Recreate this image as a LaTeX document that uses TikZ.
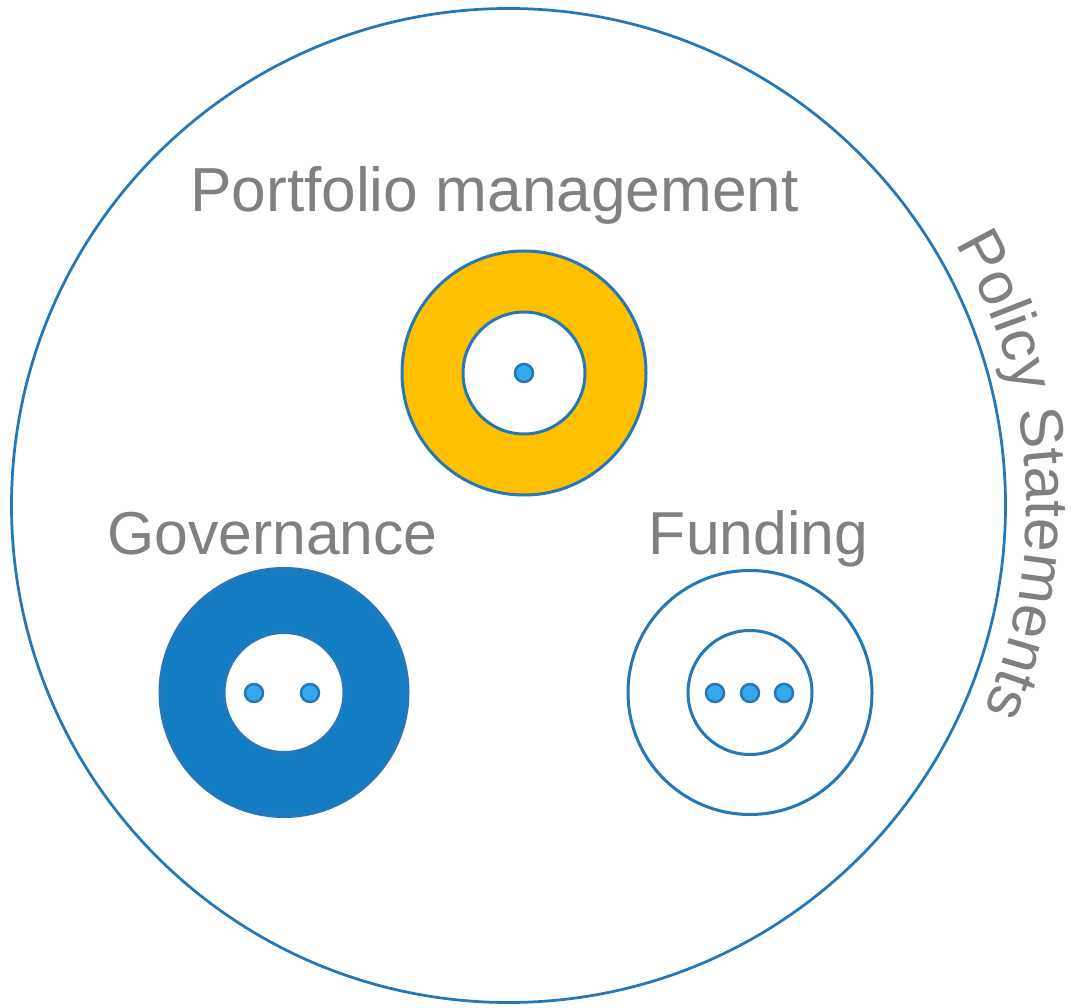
\documentclass[tikz,border=0pt]{standalone}
\usepackage{fontspec}
\setmainfont{Liberation Sans}
\usetikzlibrary{shapes.geometric, decorations.text}
\definecolor{edgeblue}{HTML}{2677B5}
\definecolor{fillblue}{HTML}{127DC2}
\definecolor{dotblue}{HTML}{35A8F0}
\definecolor{gold}{HTML}{FFC000}
\definecolor{labelgray}{HTML}{808080}
\newcommand{\labelfont}{\fontsize{34.5}{40}\selectfont}
\tikzstyle{outer} = [circle, draw=edgeblue, line width=0.055cm, fill=white, inner sep=0pt]
\tikzstyle{ring} = [circle, draw=edgeblue, line width=0.06cm, minimum size=4.88cm, inner sep=0pt]
\tikzstyle{hole} = [circle, draw=edgeblue, line width=0.06cm, fill=white, minimum size=2.44cm, inner sep=0pt]
\tikzstyle{pip} = [circle, draw=edgeblue, line width=0.05cm, fill=dotblue, minimum size=0.36cm, inner sep=0pt]
\tikzstyle{caption} = [anchor=base, text=labelgray, font=\labelfont, inner sep=0pt]

\begin{document}
\begin{tikzpicture}
\useasboundingbox (0,0) rectangle (21.42,20.14);

%% NODES

\node (policy) [outer, minimum size=19.88cm] at (10.17,10.03) {};

\node (port) [ring, fill=gold] at (10.48,12.68) {};
\node (porthole) [hole] at (port) {};
\node (portpip) [pip] at (port) {};

\node (gov) [ring, fill=fillblue, minimum size=4.96cm] at (5.68,6.29) {};
\node (govhole) [hole, minimum size=2.4cm] at (gov) {};
\node (govpip1) [pip] at (5.08,6.28) {};
\node (govpip2) [pip] at (6.20,6.28) {};

\node (fund) [ring, fill=white] at (15.0,6.29) {};
\node (fundhole) [hole, minimum size=2.48cm] at (fund) {};
\node (fundpip1) [pip] at (14.30,6.28) {};
\node (fundpip2) [pip] at (15.00,6.28) {};
\node (fundpip3) [pip] at (15.68,6.28) {};

%% LABELS

\node (portlabel) [caption, font=\fontsize{35.4}{41}\selectfont] at (9.89,15.90) {Portfolio management};
\node (govlabel) [caption] at (5.45,9.04) {Governance};
\node (fundlabel) [caption] at (15.17,9.04) {Funding};

% text bent round the outer circle
\path [decorate, decoration={text along path, text={|\labelfont|Policy Statements}, text color=labelgray, text align=center}]
  (policy.center) ++(40:10.36) arc[start angle=40, end angle=-33, radius=10.36];
\end{tikzpicture}
\end{document}
